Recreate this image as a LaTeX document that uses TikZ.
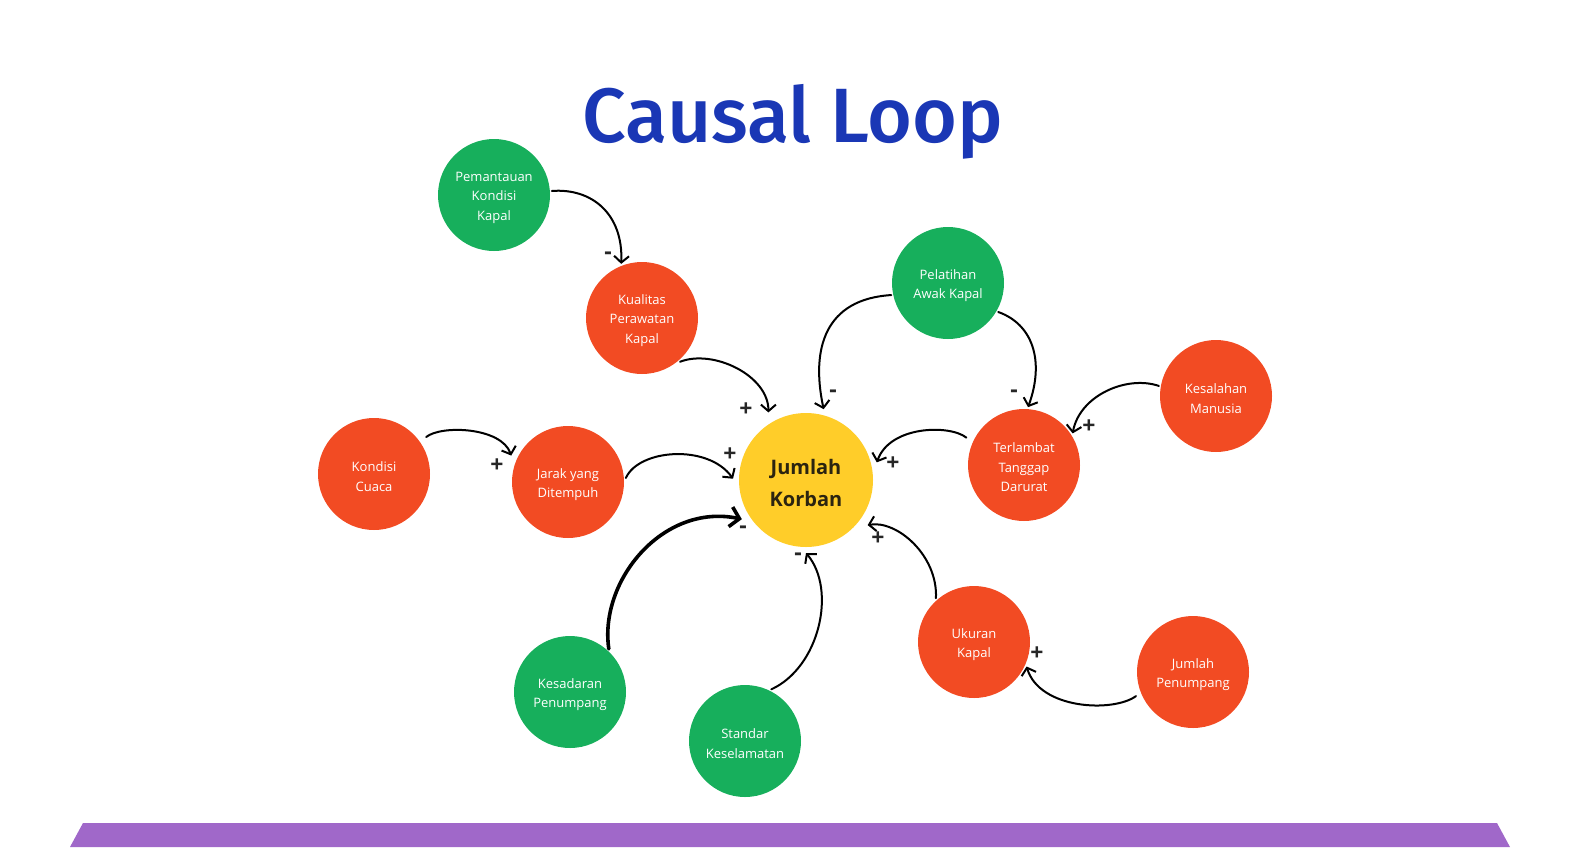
\documentclass[tikz,border=0pt]{standalone}
\usepackage{fontspec}
\setmainfont{Open Sans}
\newfontfamily\titlefont{Fira Sans Medium}
\usetikzlibrary{arrows.meta}
\definecolor{loopgreen}{HTML}{17AF5C}
\definecolor{looporange}{HTML}{F24B23}
\definecolor{loopyellow}{HTML}{FFCD29}
\definecolor{titleblue}{HTML}{1A37B5}
\definecolor{barpurple}{HTML}{A068C9}
\definecolor{coreink}{HTML}{2B2410}
\newcommand{\topgap}[1]{\rule{0pt}{#1}}
\begin{document}
\begin{tikzpicture}[x=1pt,y=-1pt,line cap=round,line join=round,
  factor/.style={circle,minimum size=112pt,inner sep=0pt,outer sep=2pt,text=white,align=center,font=\fontsize{13}{19.5}\selectfont},
  good/.style={factor,fill=loopgreen},
  bad/.style={factor,fill=looporange},
  link/.style={line width=2pt,-{Straight Barb[length=6.5pt,width=15pt]}},
  sign/.style={font=\bfseries\fontsize{23}{23}\selectfont,inner sep=0pt,text=black!85}]
  \useasboundingbox (0,0) rectangle (1577,847);
  \fill[barpurple] (83,823) -- (1497,823) -- (1510,847) -- (70,847) -- cycle;
  \node[text=titleblue,font=\titlefont\fontsize{77}{77}\selectfont,anchor=base,inner sep=0pt] (title) at (793,142) {Causal Loop};

  \node[circle,minimum size=134pt,inner sep=0pt,outer sep=6pt,fill=loopyellow,text=coreink,align=center,font=\bfseries\fontsize{20}{32.5}\selectfont] (jk) at (806,480) {\topgap{21pt}Jumlah\\Korban};
  \node[good] (pem) at (494,195) {\topgap{15pt}Pemantauan\\Kondisi\\Kapal};
  \node[bad] (kua) at (642,318) {\topgap{15pt}Kualitas\\Perawatan\\Kapal};
  \node[good] (pel) at (948,283) {\topgap{15pt}Pelatihan\\Awak Kapal};
  \node[bad] (kon) at (374,474) {\topgap{15pt}Kondisi\\Cuaca};
  \node[bad] (jar) at (568,482) {\topgap{15pt}Jarak yang\\Ditempuh};
  \node[bad] (ter) at (1024,465) {\topgap{15pt}Terlambat\\Tanggap\\Darurat};
  \node[bad] (ksl) at (1216,396) {\topgap{15pt}Kesalahan\\Manusia};
  \node[bad] (uk) at (974,642) {\topgap{15pt}Ukuran\\Kapal};
  \node[bad] (jp) at (1193,672) {\topgap{15pt}Jumlah\\Penumpang};
  \node[good] (kes) at (570,692) {\topgap{15pt}Kesadaran\\Penumpang};
  \node[good] (std) at (745,741) {\topgap{15pt}Standar\\Keselamatan};

  \draw[link] (pem.4) .. controls +(40,-3) and +(2,-50) .. (kua.111);
  \draw[link,shorten >=5pt] (kua.-49) .. controls +(33,-13) and +(0,-42) .. (jk.121);
  \draw[link,shorten <=6pt,shorten >=7pt] (kon.35) .. controls +(20,-16) and +(-12,-35) .. (jar.160);
  \draw[link] (jar.4) .. controls +(13,-29) and +(-25,-35) .. (jk.179);
  \draw[line width=3.6pt,-{Straight Barb[length=9pt,width=20pt]},shorten >=3pt] (kes.48) .. controls +(-10,-68) and +(-82,-17) .. (jk.213);
  \draw[link] (std.63) .. controls +(48,-22) and +(31,37) .. (jk.-90);
  \draw[link,shorten >=5pt] (uk.131) .. controls +(2,-43) and +(34,-6) .. (jk.-39);
  \draw[link,shorten <=4pt] (jp.202) .. controls +(-26,19) and +(13,43) .. (uk.-25);
  \draw[link,shorten <=6pt] (ter.156) .. controls +(-21,-17) and +(13,-37) .. (jk.14);
  \draw[link] (pel.192) .. controls +(-66,4) and +(-13,-61) .. (jk.76);
  \draw[link] (pel.-30) .. controls +(34,12) and +(17,-47) .. (ter.86);
  \draw[link] (ksl.170) .. controls +(-32,-11) and +(7,-38) .. (ter.33);

  \node[sign] (s1) at (608,256) {-};
  \node[sign] (s2) at (746,410) {+};
  \node[sign] (s3) at (497,466) {+};
  \node[sign] (s4) at (730,455) {+};
  \node[sign] (s5) at (743,530) {-};
  \node[sign] (s6) at (798,557) {-};
  \node[sign] (s7) at (878,539) {+};
  \node[sign] (s8) at (1037,654) {+};
  \node[sign] (s9) at (893,464) {+};
  \node[sign] (s10) at (833,394) {-};
  \node[sign] (s11) at (1014,394) {-};
  \node[sign] (s12) at (1089,427) {+};
\end{tikzpicture}
\end{document}
